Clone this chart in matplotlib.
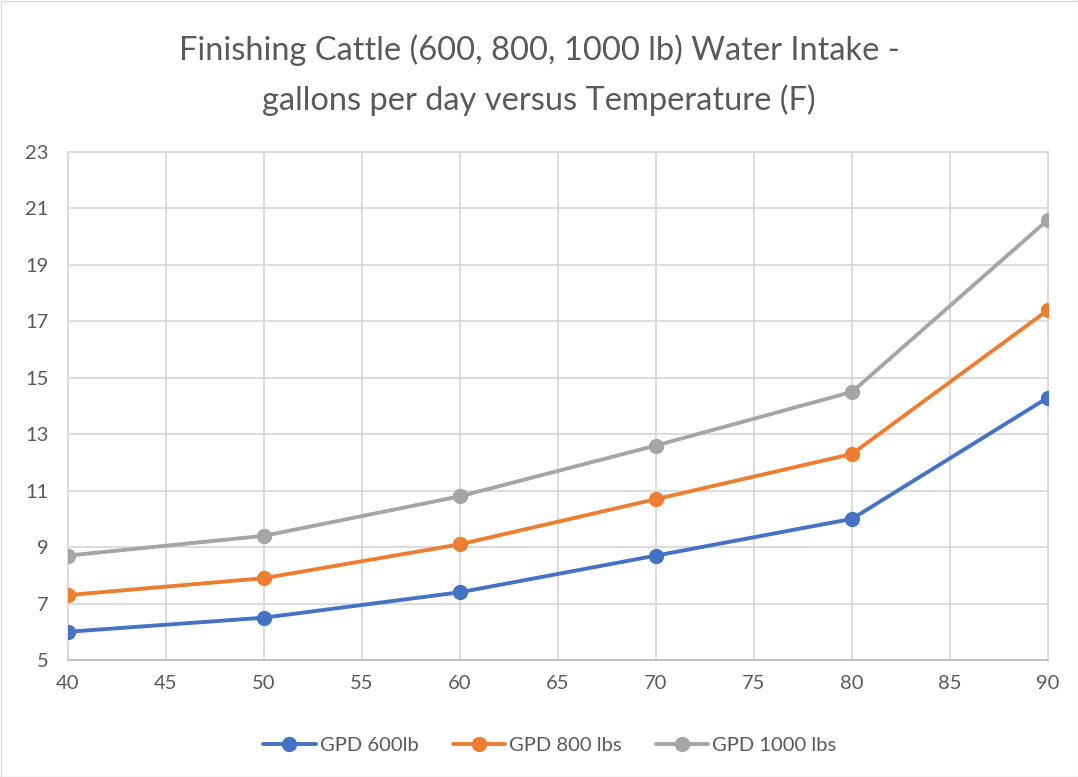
import matplotlib.pyplot as plt
from matplotlib.patches import Rectangle

temps = [40, 50, 60, 70, 80, 90]
gpd_600 = [6.0, 6.5, 7.4, 8.7, 10.0, 14.3]
gpd_800 = [7.3, 7.9, 9.1, 10.7, 12.3, 17.4]
gpd_1000 = [8.7, 9.4, 10.8, 12.6, 14.5, 20.6]
labels = ['GPD 600lb', 'GPD 800 lbs', 'GPD 1000 lbs']
colors = ['#4472C4', '#ED7D31', '#A5A5A5']

plt.rcParams['font.family'] = ['Lato', 'DejaVu Sans']
text_col = '#595959'

fig = plt.figure(figsize=(10.78, 7.77), dpi=100)
ax = fig.add_axes([68 / 1078, 1 - 660 / 777, 980 / 1078, 508 / 777])

for vals, lab, col in zip([gpd_600, gpd_800, gpd_1000], labels, colors):
    ax.plot(temps, vals, color=col, lw=2.8, marker='o', ms=10, label=lab,
            solid_capstyle='round', zorder=3)

ax.set_xlim(40, 90)
ax.set_ylim(5, 23)
ax.set_xticks(range(40, 91, 5))
ax.set_yticks(range(5, 24, 2))
ax.grid(True, color='#d9d9d9', lw=1.3)
ax.set_axisbelow(True)
for s in ax.spines.values():
    s.set_color('#d9d9d9')
    s.set_linewidth(1.3)
ax.spines['bottom'].set_color('#bfbfbf')
ax.tick_params(length=0, labelsize=14.5, colors=text_col, pad=11)
ax.tick_params(axis='y', pad=14)

fig.text(0.5, 1 - 50 / 777, 'Finishing Cattle (600, 800, 1000 lb) Water Intake -',
         ha='center', va='center', fontsize=23.5, color=text_col)
fig.text(0.5, 1 - 100 / 777, 'gallons per day versus Temperature (F)',
         ha='center', va='center', fontsize=23.5, color=text_col)

fig.legend(loc='center', bbox_to_anchor=(0.51, 1 - 745 / 777), ncol=3,
           frameon=False, fontsize=14.5, labelcolor=text_col, handlelength=2.6,
           handletextpad=0.2, columnspacing=1.7)

fig.patches.append(Rectangle((0.5 / 1078, 0.5 / 777), 1 - 1 / 1078, 1 - 1 / 777,
                             transform=fig.transFigure, fill=False,
                             edgecolor='#d9d9d9', lw=1))

fig.savefig('out.png', dpi=100)
